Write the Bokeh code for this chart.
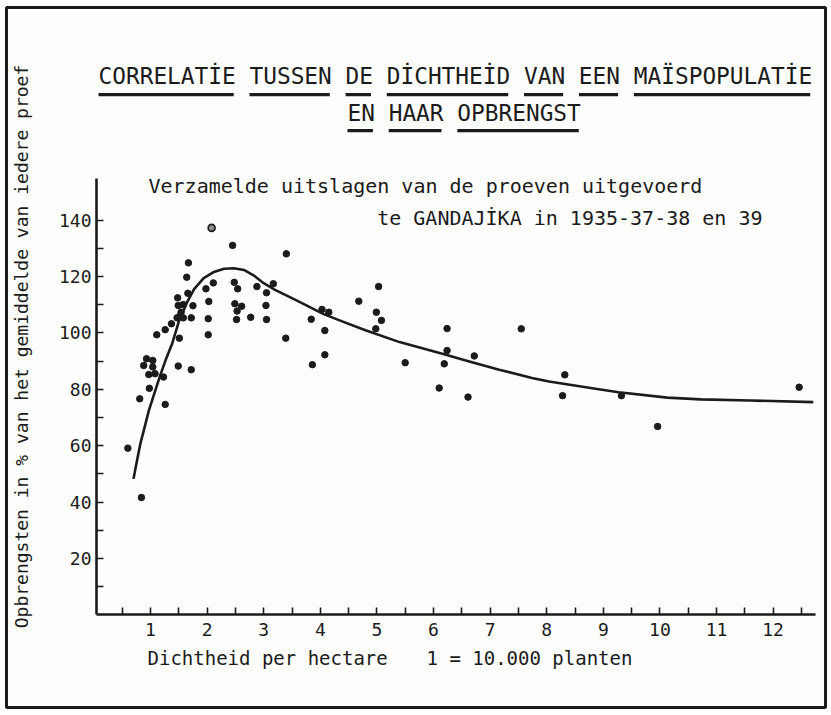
import math
from bokeh.plotting import figure
from bokeh.models import Range1d, FixedTicker, Label, BoxAnnotation
from bokeh.embed import file_html
from bokeh.resources import INLINE

# ---------------- data ----------------
density = [0.60, 0.81, 0.84, 0.98, 0.93, 1.04, 0.88, 1.04, 0.97, 1.08,
           1.23, 1.26, 1.11, 1.26, 1.37, 1.51, 1.49, 1.72, 1.47, 1.51,
           1.58, 1.72, 1.54, 1.49, 1.58, 1.75, 1.48, 1.66, 1.64, 1.67,
           1.98, 2.03, 2.02, 2.02, 2.11, 2.45, 2.48, 2.54, 2.49, 2.61,
           2.53, 2.52, 2.77, 2.88, 3.05, 3.17, 3.04, 3.05, 3.40, 3.39,
           3.84, 3.86, 4.03, 4.15, 4.08, 4.08, 4.68, 5.03, 4.99, 5.08,
           4.98, 5.50, 6.24, 6.24, 6.19, 6.10, 6.72, 6.61, 7.55, 8.32,
           8.28, 9.32, 9.96, 12.46]
yield_pct = [59.1, 76.6, 41.6, 80.3, 90.8, 90.2, 88.4, 87.9, 85.2, 85.5,
             84.3, 74.6, 99.3, 101.1, 103.2, 98.1, 88.2, 86.9, 105.3, 105.8,
             105.3, 105.3, 107.3, 109.7, 110.0, 109.6, 112.4, 114.0, 119.7, 124.8,
             115.6, 111.1, 105.0, 99.3, 117.7, 131.0, 117.9, 115.6, 110.3, 109.4,
             107.7, 104.7, 105.5, 116.4, 114.2, 117.4, 109.7, 104.7, 128.0, 98.1,
             104.8, 88.7, 108.3, 107.3, 100.8, 92.2, 111.2, 116.4, 107.3, 104.4,
             101.4, 89.4, 101.5, 93.7, 89.0, 80.4, 91.8, 77.2, 101.4, 85.1,
             77.7, 77.7, 66.8, 80.7]
open_density = [2.08]
open_yield = [137.2]

curve_density = [0.70, 0.76, 0.82, 0.90, 0.97, 1.06, 1.17, 1.28, 1.38, 1.50,
                 1.65, 1.77, 1.94, 2.12, 2.30, 2.47, 2.65, 2.82, 3.00, 3.20,
                 3.58, 4.05, 4.34, 4.81, 5.40, 6.22, 6.57, 7.16, 7.74, 8.04,
                 8.92, 9.27, 10.13, 10.72, 11.60, 12.71]
curve_yield = [48.2, 54.5, 60.6, 66.8, 72.4, 78.0, 84.8, 91.0, 96.0, 104.0,
               111.0, 115.5, 119.4, 121.6, 122.7, 122.9, 122.3, 120.4, 117.6, 115.2,
               111.5, 106.7, 104.4, 100.8, 96.7, 92.2, 90.2, 86.9, 84.0, 82.7,
               80.0, 78.9, 77.0, 76.4, 76.0, 75.4]

x_ticks = [1, 2, 3, 4, 5, 6, 7, 8, 9, 10, 11, 12]
x_minor = [0.5, 1.5, 2.5, 3.5, 4.5, 5.5, 6.5, 7.5, 8.5, 9.5, 10.5, 11.5, 12.5]
y_ticks = [20, 40, 60, 80, 100, 120, 140]
y_minor = [10, 30, 50, 70, 90, 110, 130]

title_1 = "CORRELATİE TUSSEN DE DİCHTHEİD VAN EEN MAÏSPOPULATİE"
title_2 = "EN HAAR OPBRENGST"
sub_1 = "Verzamelde uitslagen van de proeven uitgevoerd"
sub_2 = "te GANDAJİKA in 1935-37-38 en 39"
x_label_1 = "Dichtheid per hectare"
x_label_2 = "1 = 10.000 planten"
y_label = "Opbrengsten in % van het gemiddelde van iedere proef"

# ---------------- layout ----------------
INK = "#1b1b1b"
BG = "#fdfdfc"
FONT = "DejaVu Sans Mono"
ADV = 0.60205      # advance width of DejaVu Sans Mono, in em
TXT_DY = 8         # rendered text sits this much lower than its anchor

W, H = 829, 713
MBL, MBR, MBT, MBB = 6, 4, 7, 6
FL, FT = MBL, MBT
FW, FH = W - MBL - MBR, H - MBT - MBB
PX0, PPX = 93.4, 56.6            # page x of density 0, px per unit
PY0, PPY = 614.3, 2.82           # page y of yield 0, px per unit


def X(px):
    return (px - PX0) / PPX


def Y(py):
    return (PY0 - py) / PPY


p = figure(width=W, height=H, output_backend="svg", toolbar_location=None,
           x_range=Range1d(X(FL), X(FL + FW)), y_range=Range1d(Y(FT + FH), Y(FT)),
           min_border_left=MBL, min_border_right=MBR, min_border_top=MBT, min_border_bottom=MBB)
p.title.visible = False
p.grid.visible = False
p.background_fill_color = BG
p.border_fill_color = BG
p.outline_line_color = INK
p.outline_line_width = 3

xa = p.xaxis[0]
xa.fixed_location = 0
xa.bounds = (X(96), X(815))
xa.ticker = FixedTicker(ticks=x_ticks, minor_ticks=x_minor)
ya = p.yaxis[0]
ya.fixed_location = X(96)
ya.bounds = (0, Y(178))
ya.ticker = FixedTicker(ticks=y_ticks, minor_ticks=y_minor)
for ax in (xa, ya):
    ax.axis_line_color = INK
    ax.axis_line_width = 2.6
    ax.major_tick_line_color = INK
    ax.minor_tick_line_color = INK
    ax.major_tick_line_width = 1.6
    ax.minor_tick_line_width = 1.6
    ax.major_tick_in = 7
    ax.major_tick_out = 0
    ax.minor_tick_in = 7
    ax.minor_tick_out = 0
    ax.major_label_text_font = FONT
    ax.major_label_text_font_size = "18px"
    ax.major_label_text_color = INK
xa.major_label_standoff = 8
ya.major_label_standoff = 5

# curve and points
p.line(curve_density, curve_yield, line_color=INK, line_width=2.6, line_join="round")
p.scatter(density, yield_pct, size=6.5, fill_color=INK, line_color=INK)
p.scatter(open_density, open_yield, size=7, fill_color="#8c8c8c", line_color=INK, line_width=1.6)


def text(px, py, s, size, align="left", angle=0.0, baseline="alphabetic"):
    p.add_layout(Label(x=X(px), y=Y(py - TXT_DY), text=s, text_font=FONT,
                       text_font_size=f"{size}px", text_color=INK,
                       text_align=align, text_baseline=baseline, angle=angle))


def underlined(px, py, s, size, uy):
    text(px, py, s, size)
    pitch = ADV * size
    i = 0
    for word in s.split(" "):
        a = px + i * pitch
        b = px + (i + len(word)) * pitch - 0.15 * pitch
        p.add_layout(BoxAnnotation(left=X(a), right=X(b), top=Y(uy), bottom=Y(uy + 3.2),
                                   fill_color=INK, fill_alpha=1.0, line_alpha=0))
        i += len(word) + 1


T = 22.8
underlined(98, 83, title_1, T, 92.5)
underlined(347, 120, title_2, T, 128.5)

text(148, 193, sub_1, 20)
text(762, 225, sub_2, 20, align="right")
text(147, 665, x_label_1, 19)
text(426, 665, x_label_2, 19)
p.add_layout(Label(x=X(21), y=Y(346), text=y_label, text_font=FONT,
                   text_font_size="18px", text_color=INK, text_align="center",
                   text_baseline="middle", angle=math.pi / 2))

open("out.html", "w").write(file_html(p, INLINE))
